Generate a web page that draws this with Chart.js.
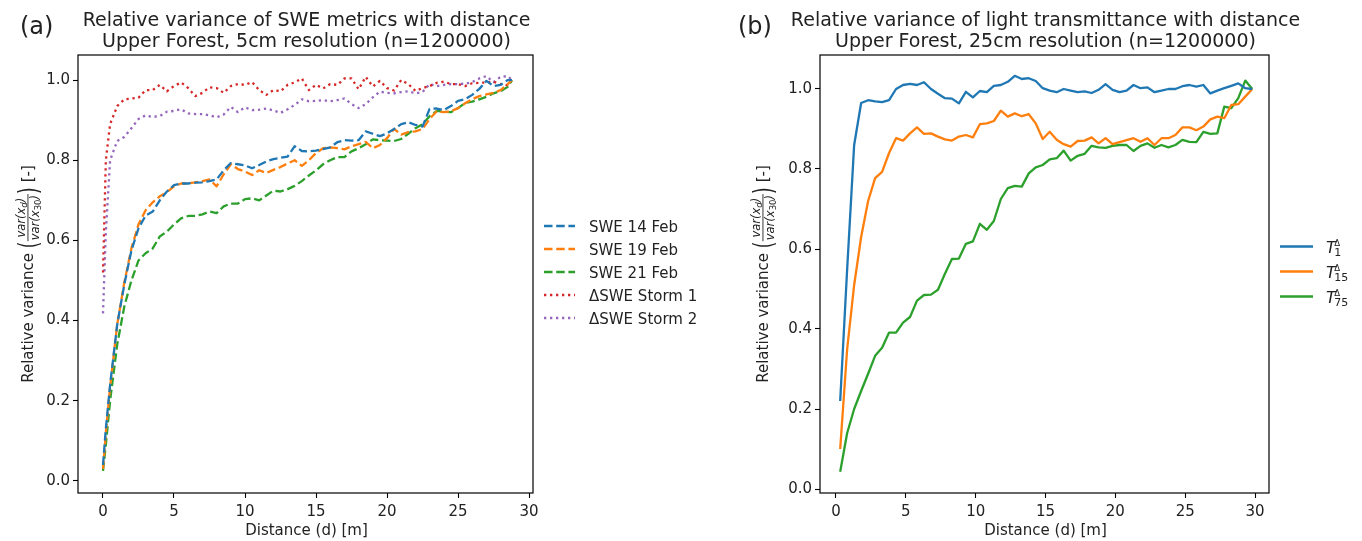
<!DOCTYPE html>
<html>
<head>
<meta charset="utf-8">
<script src="https://cdn.jsdelivr.net/npm/chart.js@4.4.1/dist/chart.umd.min.js"></script>
<style>
  html, body { margin: 0; padding: 0; background: #fff; }
  #wrap { position: relative; width: 1362px; height: 541px; }
  canvas { position: absolute; top: 0; }
  #chartA { left: 0; }
  #chartB { left: 735px; }
</style>
</head>
<body>
<div id="wrap">
  <canvas id="chartA" width="735" height="541"></canvas>
  <canvas id="chartB" width="627" height="541"></canvas>
</div>
<script>
// panel (a): SWE metrics, 5cm resolution
const distA = [0, 0.2, 0.5, 1, 1.5, 2, 2.5, 3, 3.5, 4, 4.5, 5, 5.5, 6, 6.5, 7, 7.5, 8, 8.5, 9,
  9.5, 10, 10.5, 11, 11.5, 12, 12.5, 13, 13.5, 14, 14.5, 15, 15.5, 16, 16.5, 17, 17.5, 18, 18.5, 19,
  19.5, 20, 20.5, 21, 21.5, 22, 22.5, 23, 23.5, 24, 24.5, 25, 25.5, 26, 26.5, 27, 27.5, 28, 28.5, 28.8];
const swe14 = [0.04, 0.13, 0.24, 0.39, 0.49, 0.575, 0.63, 0.662, 0.672, 0.70,
  0.722, 0.738, 0.742, 0.742, 0.744, 0.745, 0.748, 0.752, 0.775, 0.793,
  0.79, 0.787, 0.78, 0.788, 0.797, 0.803, 0.806, 0.809, 0.835, 0.823,
  0.822, 0.824, 0.828, 0.832, 0.845, 0.85, 0.849, 0.85, 0.872, 0.866,
  0.86, 0.867, 0.878, 0.89, 0.895, 0.888, 0.884, 0.928, 0.929, 0.925,
  0.935, 0.948, 0.952, 0.963, 0.978, 0.998, 0.985, 0.988, 1.0, 1.0];
const swe19 = [0.03, 0.12, 0.235, 0.39, 0.495, 0.58, 0.64, 0.675, 0.695, 0.71,
  0.72, 0.735, 0.742, 0.742, 0.745, 0.748, 0.752, 0.735, 0.765, 0.79,
  0.778, 0.772, 0.763, 0.775, 0.768, 0.776, 0.783, 0.792, 0.8, 0.786,
  0.8, 0.818, 0.83, 0.832, 0.83, 0.827, 0.835, 0.84, 0.846, 0.83,
  0.838, 0.855, 0.878, 0.864, 0.87, 0.872, 0.878, 0.903, 0.922, 0.92,
  0.922, 0.93, 0.942, 0.952, 0.96, 0.964, 0.968, 0.975, 0.99, 1.0];
const swe21 = [0.025, 0.09, 0.2, 0.34, 0.435, 0.5, 0.55, 0.568, 0.58, 0.61,
  0.622, 0.64, 0.655, 0.661, 0.661, 0.665, 0.672, 0.668, 0.685, 0.692,
  0.692, 0.703, 0.705, 0.70, 0.712, 0.724, 0.722, 0.728, 0.736, 0.748,
  0.762, 0.775, 0.79, 0.8, 0.808, 0.808, 0.822, 0.83, 0.84, 0.852,
  0.85, 0.849, 0.848, 0.853, 0.866, 0.88, 0.89, 0.91, 0.923, 0.921,
  0.92, 0.93, 0.943, 0.946, 0.952, 0.958, 0.967, 0.972, 0.983, 1.0];
const storm1 = [0.52, 0.8, 0.89, 0.935, 0.952, 0.954, 0.956, 0.975, 0.975, 0.988,
  0.972, 0.985, 0.994, 0.98, 0.96, 0.968, 0.982, 0.98, 0.968, 0.985,
  0.99, 0.988, 0.995, 0.975, 0.963, 0.975, 0.972, 0.988, 0.994, 1.004,
  0.975, 0.988, 0.979, 0.99, 0.988, 1.004, 1.004, 0.977, 1.008, 0.984,
  0.998, 0.98, 0.974, 1.0, 0.99, 0.973, 0.98, 0.985, 0.993, 0.996,
  0.99, 0.99, 0.985, 0.992, 0.993, 0.994, 0.996, 0.99, 0.987, 1.0];
const storm2 = [0.418, 0.62, 0.80, 0.848, 0.858, 0.88, 0.903, 0.912, 0.908, 0.91,
  0.921, 0.923, 0.927, 0.917, 0.915, 0.915, 0.912, 0.907, 0.914, 0.933,
  0.92, 0.932, 0.925, 0.926, 0.929, 0.924, 0.918, 0.927, 0.938, 0.952,
  0.947, 0.948, 0.95, 0.947, 0.95, 0.954, 0.94, 0.93, 0.94, 0.957,
  0.971, 0.968, 0.967, 0.97, 0.972, 0.967, 0.97, 0.99, 0.985, 0.988,
  0.99, 0.99, 0.991, 0.995, 1.004, 1.01, 0.995, 1.008, 1.01, 1.0];

// panel (b): light transmittance, 25cm resolution
const distB = [0.3, 0.8, 1.3, 1.8, 2.3, 2.8, 3.3, 3.8, 4.3, 4.8,
  5.3, 5.8, 6.3, 6.8, 7.3, 7.8, 8.3, 8.8, 9.3, 9.8,
  10.3, 10.8, 11.3, 11.8, 12.3, 12.8, 13.3, 13.8, 14.3, 14.8,
  15.3, 15.8, 16.3, 16.8, 17.3, 17.8, 18.3, 18.8, 19.3, 19.8,
  20.3, 20.8, 21.3, 21.8, 22.3, 22.8, 23.3, 23.8, 24.3, 24.8,
  25.3, 25.8, 26.3, 26.8, 27.3, 27.8, 28.3, 28.8, 29.3, 29.8];
const t1 = [0.22, 0.55, 0.86, 0.965, 0.972, 0.969, 0.967, 0.972, 1.0, 1.01,
  1.013, 1.01, 1.017, 1.0, 0.988, 0.977, 0.976, 0.964, 0.993, 0.979,
  0.995, 0.992, 1.008, 1.01, 1.018, 1.033, 1.025, 1.027, 1.02, 1.002,
  0.996, 0.992, 1.0, 0.996, 0.992, 0.994, 0.99, 0.998, 1.012, 0.998,
  0.992, 0.996, 1.01, 1.002, 1.004, 0.992, 0.996, 1.0, 1.0, 1.007,
  1.01, 1.006, 1.01, 0.989, 0.996, 1.002, 1.008, 1.014, 1.002, 1.0];
const t15 = [0.10, 0.35, 0.51, 0.63, 0.72, 0.777, 0.793, 0.84, 0.877, 0.871,
  0.889, 0.904, 0.888, 0.889, 0.881, 0.874, 0.871, 0.881, 0.885, 0.879,
  0.912, 0.914, 0.92, 0.946, 0.931, 0.939, 0.932, 0.937, 0.914, 0.875,
  0.893, 0.873, 0.862, 0.856, 0.87, 0.871, 0.879, 0.864, 0.877, 0.862,
  0.867, 0.872, 0.877, 0.868, 0.877, 0.86, 0.877, 0.877, 0.885, 0.904,
  0.904, 0.897, 0.906, 0.924, 0.931, 0.927, 0.96, 0.962, 0.981, 1.0];
const t75 = [0.043, 0.14, 0.2, 0.245, 0.288, 0.333, 0.353, 0.391, 0.391, 0.416,
  0.43, 0.471, 0.485, 0.486, 0.498, 0.538, 0.575, 0.576, 0.613, 0.619,
  0.663, 0.648, 0.67, 0.725, 0.752, 0.758, 0.756, 0.789, 0.804, 0.81,
  0.824, 0.827, 0.846, 0.821, 0.833, 0.838, 0.858, 0.854, 0.853, 0.858,
  0.86, 0.86, 0.845, 0.858, 0.864, 0.853, 0.86, 0.854, 0.86, 0.873,
  0.868, 0.867, 0.893, 0.888, 0.889, 0.956, 0.952, 0.977, 1.021, 1.0];

const xTicks = [0, 5, 10, 15, 20, 25, 30];
const yTicks = [0.0, 0.2, 0.4, 0.6, 0.8, 1.0];
const labelsA = ['SWE 14 Feb', 'SWE 19 Feb', 'SWE 21 Feb', '\u0394SWE Storm 1', '\u0394SWE Storm 2'];
const subsB = ['1', '15', '75'];

const txt = '#222';
const FONT = '"DejaVu Sans", sans-serif';
Chart.defaults.font.family = FONT;
Chart.defaults.font.size = 15;
Chart.defaults.color = txt;

const LW = 2.3;
const DASH = [8.5, 3.7];
const DOT = [2.3, 3.7];

function pts(xs, ys) { return xs.map((x, i) => ({ x: x, y: ys[i] })); }

function line(label, xs, ys, color, dash) {
  return {
    label: label, data: pts(xs, ys), borderColor: color, backgroundColor: color,
    borderWidth: LW, borderDash: dash || [], borderCapStyle: 'butt', borderJoinStyle: 'round',
    pointRadius: 0, tension: 0, fill: false
  };
}

function scales(xmin, xmax, ymin, ymax, yW, xH) {
  const grid = { drawOnChartArea: false, drawTicks: true, tickLength: 5, tickColor: '#000', tickWidth: 1.1 };
  return {
    x: {
      type: 'linear', min: xmin, max: xmax,
      afterBuildTicks: s => { s.ticks = xTicks.map(v => ({ value: v })); },
      afterFit: s => { s.height = xH; },
      grid: grid, border: { display: false },
      ticks: { padding: 5, maxRotation: 0, autoSkip: false, color: txt, callback: v => String(v) }
    },
    y: {
      type: 'linear', min: ymin, max: ymax,
      afterBuildTicks: s => { s.ticks = yTicks.map(v => ({ value: v })); },
      afterFit: s => { s.width = yW; },
      grid: grid, border: { display: false },
      ticks: { padding: 3, autoSkip: false, color: txt, callback: v => v.toFixed(1) }
    }
  };
}

// draw a sequence of text runs; returns total width
function runs(ctx, list, x, y, draw) {
  let w = 0;
  list.forEach(r => {
    ctx.font = r.font;
    if (draw) ctx.fillText(r.t, x + w, y + (r.dy || 0));
    w += ctx.measureText(r.t).width;
  });
  return w;
}

function yLabel(ctx, cx, cy) {
  const main = '15px ' + FONT;
  const it = 'italic 11.5px ' + FONT;
  const sub = 'italic 8.5px ' + FONT;
  const subn = '8.5px ' + FONT;
  const num = [{ t: 'var(x', font: it }, { t: 'd', font: sub, dy: 2 }, { t: ')', font: it }];
  const den = [{ t: 'var(x', font: it }, { t: '30', font: subn, dy: 2 }, { t: ')', font: it }];
  ctx.save();
  ctx.translate(cx, cy);
  ctx.rotate(-Math.PI / 2);
  ctx.fillStyle = txt;
  ctx.textBaseline = 'alphabetic';
  ctx.font = main;
  const w1 = ctx.measureText('Relative variance ').width;
  const w3 = ctx.measureText(' [-]').width;
  const wn = runs(ctx, num, 0, 0, false);
  const wd = runs(ctx, den, 0, 0, false);
  const wf = Math.max(wn, wd) + 2;
  const wp = 7;
  const total = w1 + wp + wf + wp + w3;
  let x = -total / 2;
  ctx.font = main;
  ctx.fillText('Relative variance ', x, 0);
  x += w1;
  const bar = -5;
  // big parentheses
  const paren = (ch, px) => {
    ctx.save();
    ctx.translate(px, bar);
    ctx.scale(1, 1.6);
    ctx.font = '17px ' + FONT;
    ctx.fillText(ch, 0, 5.5);
    ctx.restore();
  };
  paren('(', x);
  x += wp;
  runs(ctx, num, x + (wf - wn) / 2, bar - 3, true);
  ctx.fillRect(x, bar - 0.5, wf, 0.9);
  runs(ctx, den, x + (wf - wd) / 2, bar + 10.5, true);
  x += wf;
  paren(')', x);
  x += wp;
  ctx.font = main;
  ctx.fillText(' [-]', x, 0);
  ctx.restore();
}

function decor(opts) {
  return {
    id: 'decor',
    afterDraw(chart) {
      const { ctx, chartArea: a } = chart;
      const cx = (a.left + a.right) / 2 + 1;
      ctx.save();
      // full box
      ctx.strokeStyle = '#000';
      ctx.lineWidth = 1.2;
      ctx.strokeRect(a.left, a.top, a.right - a.left, a.bottom - a.top);
      ctx.fillStyle = txt;
      // panel letter
      ctx.font = '24px ' + FONT;
      ctx.textAlign = 'left';
      ctx.textBaseline = 'alphabetic';
      ctx.fillText(opts.letter, opts.letterX, 34);
      // title
      ctx.font = '19px ' + FONT;
      ctx.textAlign = 'center';
      ctx.fillText(opts.title[0], cx, 26);
      ctx.fillText(opts.title[1], cx, 47);
      // x label
      ctx.font = '15px ' + FONT;
      ctx.fillText('Distance (d) [m]', cx, 535);
      ctx.restore();
      yLabel(ctx, opts.yLabelX, (a.top + a.bottom) / 2);
      opts.legend(chart);
    }
  };
}

function sample(ctx, ds, x0, x1, y) {
  ctx.save();
  ctx.strokeStyle = ds.borderColor;
  ctx.lineWidth = LW;
  ctx.setLineDash(ds.borderDash);
  ctx.beginPath();
  ctx.moveTo(x0, y);
  ctx.lineTo(x1, y);
  ctx.stroke();
  ctx.restore();
}

function legendA(chart) {
  const ctx = chart.ctx;
  chart.data.datasets.forEach((ds, i) => {
    const y = 226 + i * 23;
    sample(ctx, ds, 544, 575, y);
    ctx.save();
    ctx.fillStyle = txt;
    ctx.font = '15px ' + FONT;
    ctx.textBaseline = 'alphabetic';
    ctx.fillText(ds.label, 589, y + 5.5);
    ctx.restore();
  });
}

function legendB(chart) {
  const ctx = chart.ctx;
  chart.data.datasets.forEach((ds, i) => {
    const y = 246.5 + i * 25;
    sample(ctx, ds, 545, 578, y);
    ctx.save();
    ctx.fillStyle = txt;
    ctx.textBaseline = 'alphabetic';
    const x = 591;
    ctx.font = 'italic 16px ' + FONT;
    ctx.fillText('T', x, y + 6);
    const wT = ctx.measureText('T').width;
    ctx.font = '8.5px ' + FONT;
    ctx.fillText('\u0394', x + wT - 1.5, y - 0.5);
    ctx.font = '11px ' + FONT;
    ctx.fillText(subsB[i], x + wT - 1.5, y + 9);
    ctx.restore();
  });
}

const common = {
  responsive: false, animation: false, devicePixelRatio: 1,
  plugins: { legend: { display: false }, title: { display: false }, tooltip: { enabled: false } },
  elements: { line: { borderJoinStyle: 'round' } }
};

new Chart(document.getElementById('chartA'), {
  type: 'line',
  data: {
    datasets: [
      line(labelsA[0], distA, swe14, '#1f77b4', DASH),
      line(labelsA[1], distA, swe19, '#ff7f0e', DASH),
      line(labelsA[2], distA, swe21, '#2ca02c', DASH),
      line(labelsA[3], distA, storm1, '#d62728', DOT),
      line(labelsA[4], distA, storm2, '#9467bd', DOT)
    ]
  },
  options: Object.assign({}, common, {
    layout: { padding: { left: 0, top: 55, right: 202, bottom: 0 } },
    scales: scales(-1.76, 30.28, -0.03, 1.0625, 78, 48)
  }),
  plugins: [decor({
    letter: '(a)', letterX: 20, yLabelX: 33,
    title: ['Relative variance of SWE metrics with distance', 'Upper Forest, 5cm resolution (n=1200000)'],
    legend: legendA
  })]
});

new Chart(document.getElementById('chartB'), {
  type: 'line',
  data: {
    datasets: [
      line('T1', distB, t1, '#1f77b4'),
      line('T15', distB, t15, '#ff7f0e'),
      line('T75', distB, t75, '#2ca02c')
    ]
  },
  options: Object.assign({}, common, {
    layout: { padding: { left: 0, top: 55, right: 93, bottom: 0 } },
    scales: scales(-1.145, 31.0, -0.01, 1.085, 85, 48)
  }),
  plugins: [decor({
    letter: '(b)', letterX: 3, yLabelX: 33,
    title: ['Relative variance of light transmittance with distance', 'Upper Forest, 25cm resolution (n=1200000)'],
    legend: legendB
  })]
});
</script>
</body>
</html>
